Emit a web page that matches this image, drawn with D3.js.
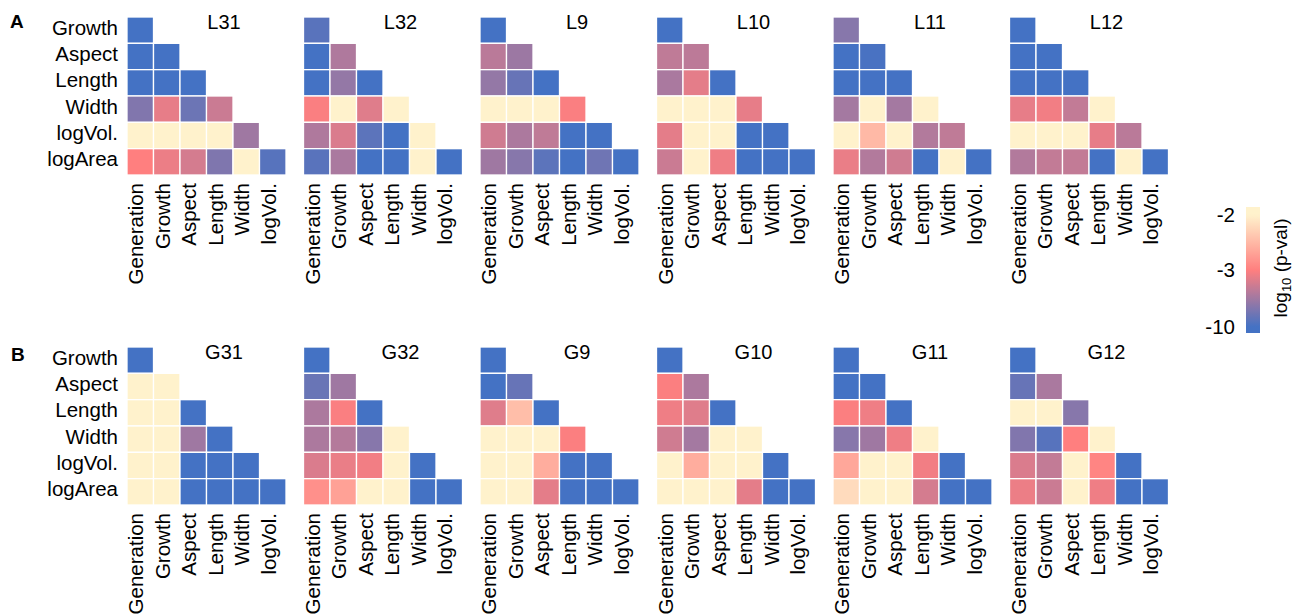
<!DOCTYPE html>
<html>
<head>
<meta charset="utf-8">
<script src="https://cdn.jsdelivr.net/npm/d3@7"></script>
<style>
  body { margin: 0; background: #fff; }
  text { font-family: Arial, "Liberation Sans", sans-serif; fill: #000; }
</style>
</head>
<body>
<div id="chart"></div>
<script>
(function() {

    var width = 1301;
    var height = 616;

    // row and column labels of every triangle
    var rowLabels = ["Growth", "Aspect", "Length", "Width", "logVol.", "logArea"];
    var colLabels = ["Generation", "Growth", "Aspect", "Length", "Width", "logVol."];

    var panelsA = ["L31", "L32", "L9", "L10", "L11", "L12"];
    var panelsB = ["G31", "G32", "G9", "G10", "G11", "G12"];

    // log10(p-val), lower triangle, row by row (-1.5 = not significant)
    var L31 = [[-10], [-10, -10], [-10, -10, -10], [-7.7, -3.9, -8.5, -5], [-1.5, -1.5, -1.5, -1.5, -6.6], [-3, -3.7, -4.6, -7.8, -1.5, -9.3]];
    var L32 = [[-9.2], [-10, -6], [-10, -7, -10], [-3.2, -1.5, -4.2, -1.5], [-6, -4.4, -9.1, -10, -1.5], [-9.2, -6.2, -10, -10, -1.5, -10]];
    var L9  = [[-10], [-5.6, -6.7], [-7, -8.7, -10], [-1.5, -1.5, -1.5, -3.2], [-4.8, -6.1, -5.4, -10, -10], [-6.6, -7.5, -9.1, -10, -8.4, -10]];
    var L10 = [[-10], [-5.4, -5.5], [-6.2, -4, -10], [-1.5, -1.5, -1.5, -3.9], [-4, -1.5, -1.5, -10, -10], [-5, -1.5, -3.6, -10, -10, -10]];
    var L11 = [[-7.5], [-10, -9.8], [-10, -10, -10], [-6.4, -1.5, -6.4, -1.5], [-1.5, -2.5, -1.5, -5.9, -5.4], [-3.8, -5.9, -4.8, -10, -1.5, -10]];
    var L12 = [[-10], [-10, -10], [-10, -10, -10], [-3.9, -3.5, -5.3, -1.5], [-1.5, -1.5, -1.5, -3.9, -5.6], [-5.9, -5.3, -5.3, -10, -1.5, -10]];

    var G31 = [[-10], [-1.5, -1.5], [-1.5, -1.5, -10], [-1.5, -1.5, -6.6, -10], [-1.5, -1.5, -10, -10, -10], [-1.5, -1.5, -10, -10, -10, -10]];
    var G32 = [[-10], [-8.6, -6.6], [-6.1, -3.2, -10], [-6.1, -5.8, -7.5, -1.5], [-4.4, -3.8, -3.5, -1.5, -10], [-2.85, -2.7, -1.5, -1.5, -10, -10]];
    var G9  = [[-10], [-10, -8.7], [-4.2, -2.45, -10], [-1.5, -1.5, -1.5, -3.15], [-1.5, -1.5, -2.6, -10, -10], [-1.5, -1.5, -4, -10, -10, -10]];
    var G10 = [[-10], [-3.15, -6.1], [-3.6, -4.2, -10], [-4.8, -6.4, -1.5, -1.5], [-1.5, -2.6, -1.5, -1.5, -10], [-1.5, -1.5, -1.5, -4, -10, -10]];
    var G11 = [[-10], [-10, -10], [-3.15, -3.6, -10], [-7.5, -6.6, -3.6, -1.5], [-2.65, -1.5, -1.5, -3.5, -10], [-2.2, -1.5, -1.5, -4.6, -10, -10]];
    var G12 = [[-10], [-8.7, -6.2], [-1.5, -1.5, -7.5], [-7.7, -9.3, -3, -1.5], [-4.4, -5.3, -1.5, -2.95, -10], [-3.7, -5, -1.5, -3.6, -10, -10]];

    var legendTicks = [-2, -3, -10];

    var matrices = { L31: L31, L32: L32, L9: L9, L10: L10, L11: L11, L12: L12,
                     G31: G31, G32: G32, G9: G9, G10: G10, G11: G11, G12: G12 };

    var svg = d3.select("#chart")
        .append("svg")
        .attr("width", width)
        .attr("height", height);

    // blue -> red -> cream
    var color = d3.scaleLinear()
        .domain([-10, -3, -2])
        .range(["#4472C4", "#FF7F7F", "#FFF2CC"])
        .clamp(true);

    var panelX = [127, 303.5, 480, 656.5, 833, 1009.5];
    var rowY = [17, 347];
    var gridW = 159, gridH = 158;

    function drawPanel(name, px, py, showRows) {
        var data = matrices[name];
        var x = d3.scaleBand().domain(colLabels).range([px, px + gridW]);
        var y = d3.scaleBand().domain(rowLabels).range([py, py + gridH]);
        var g = svg.append("g");

        var cells = [];
        data.forEach(function(row, i) {
            row.forEach(function(v, j) {
                cells.push({ row: rowLabels[i], col: colLabels[j], value: v });
            });
        });

        g.selectAll("rect")
            .data(cells)
            .enter().append("rect")
            .attr("x", d => x(d.col))
            .attr("y", d => y(d.row))
            .attr("width", x.bandwidth())
            .attr("height", y.bandwidth())
            .attr("fill", d => color(d.value))
            .attr("stroke", "#fff")
            .attr("stroke-width", 1.3);

        // column labels, rotated
        var xAxis = g.append("g")
            .attr("transform", "translate(0," + (py + gridH) + ")")
            .call(d3.axisBottom(x).tickSize(0).tickPadding(0));
        xAxis.select(".domain").remove();
        xAxis.selectAll("text")
            .attr("font-size", 20.5)
            .attr("font-family", "Arial, 'Liberation Sans', sans-serif")
            .attr("text-anchor", "end")
            .attr("transform", "rotate(-90)")
            .attr("x", -8)
            .attr("y", -4)
            .attr("dy", "0.35em");

        if (showRows) {
            var yAxis = g.append("g")
                .attr("transform", "translate(" + px + ",0)")
                .call(d3.axisLeft(y).tickSize(0).tickPadding(9));
            yAxis.select(".domain").remove();
            yAxis.selectAll("text")
                .attr("font-size", 20.5)
                .attr("dy", "0.22em")
                .attr("font-family", "Arial, 'Liberation Sans', sans-serif");
        }

        g.append("text")
            .attr("x", px + 97)
            .attr("y", py + 12)
            .attr("text-anchor", "middle")
            .attr("font-size", 20)
            .text(name);
    }

    panelsA.forEach(function(n, i) { drawPanel(n, panelX[i], rowY[0], i === 0); });
    panelsB.forEach(function(n, i) { drawPanel(n, panelX[i], rowY[1], i === 0); });

    // panel tags
    svg.append("text").attr("x", 10).attr("y", 28)
        .attr("font-size", 19).attr("font-weight", "bold").text("A");
    svg.append("text").attr("x", 11).attr("y", 361)
        .attr("font-size", 19).attr("font-weight", "bold").text("B");

    // colour bar legend
    var barTop = 207, barBottom = 333, barX = 1246, barW = 14;
    var ly = d3.scaleLinear().domain([-10, -3, -2]).range([327, 270, 215]);

    var grad = svg.append("defs").append("linearGradient")
        .attr("id", "pgrad")
        .attr("x1", 0).attr("y1", 0).attr("x2", 0).attr("y2", 1);
    d3.range(0, 41).forEach(function(k) {
        var yy = barTop + k * (barBottom - barTop) / 40;
        grad.append("stop")
            .attr("offset", (k / 40 * 100) + "%")
            .attr("stop-color", color(ly.invert(yy)));
    });
    svg.append("rect")
        .attr("x", barX).attr("y", barTop)
        .attr("width", barW).attr("height", barBottom - barTop)
        .attr("fill", "url(#pgrad)");

    var legAxis = svg.append("g")
        .attr("transform", "translate(" + barX + ",0)")
        .call(d3.axisLeft(ly).tickValues(legendTicks).tickSize(0).tickPadding(11)
            .tickFormat(d => String(d)));
    legAxis.select(".domain").remove();
    legAxis.selectAll("text")
        .attr("font-size", 20.5)
        .attr("font-family", "Arial, 'Liberation Sans', sans-serif");

    var lt = svg.append("text")
        .attr("transform", "translate(1287,268) rotate(-90)")
        .attr("text-anchor", "middle")
        .attr("font-size", 19);
    lt.append("tspan").text("log");
    lt.append("tspan").attr("font-size", 13).attr("dy", 4).text("10");
    lt.append("tspan").attr("dy", -4).text(" (p-val)");

})();
</script>
</body>
</html>
